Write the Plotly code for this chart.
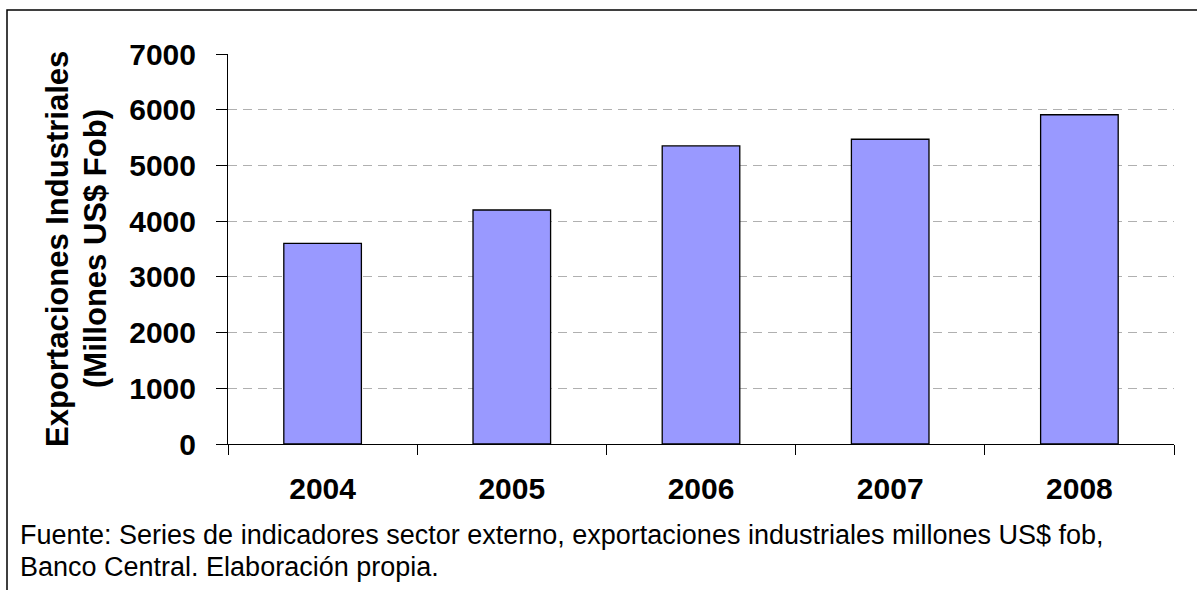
import plotly.graph_objects as go

years = ["2004", "2005", "2006", "2007", "2008"]
exports = [3600, 4200, 5350, 5470, 5910]
y_ticks = [0, 1000, 2000, 3000, 4000, 5000, 6000, 7000]
y_title_1 = "Exportaciones Industriales"
y_title_2 = "(Millones US$ Fob)"
note_1 = "Fuente: Series de indicadores sector externo, exportaciones industriales millones US$ fob,"
note_2 = "Banco Central. Elaboración propia."

W, H = 1197, 590
OFF = 0  # body margin removed via post_script
L, R, T, B = 228 - OFF, 1197 - (1174 - OFF), 54 - OFF, 590 - (444 - OFF)
pw = W - L - R
ph = H - T - B

def px_x(p):
    return (p - OFF - L) / pw

def px_y(p):
    return (H - B - (p - OFF)) / ph

FONT = "Arial, Liberation Sans, sans-serif"

fig = go.Figure(go.Bar(
    x=years, y=exports, width=0.41,
    marker=dict(color="#9999FF", line=dict(color="#000000", width=1.3)),
))

fig.update_layout(
    width=W, height=H,
    margin=dict(l=L, r=R, t=T, b=B, autoexpand=False),
    paper_bgcolor="white", plot_bgcolor="white",
    showlegend=False,
    font=dict(family=FONT, color="black"),
)
fig.update_xaxes(
    type="category", showline=True, linecolor="black", linewidth=1,
    ticks="outside", tickson="boundaries", ticklen=10, tickcolor="black", tickwidth=1,
    tickfont=dict(size=30, family=FONT, color="black", weight="bold"),
    ticklabelstandoff=18,
    showgrid=False,
)
fig.update_yaxes(
    range=[0, 7000], tickvals=y_ticks,
    showline=True, linecolor="black", linewidth=1,
    ticks="outside", ticklen=11, tickcolor="black", tickwidth=1,
    tickfont=dict(size=30, family=FONT, color="black", weight="bold"),
    ticklabelstandoff=14,
    showgrid=True, gridcolor="#b0b0b0", gridwidth=1, griddash="9px,6px",
    zeroline=False,
)

ann_font_b = dict(size=31, family=FONT, color="black", weight="bold")
ann_font = dict(size=27, family=FONT, color="black")
fig.add_annotation(x=px_x(57), y=px_y(249), xref="paper", yref="paper", text="<b>" + y_title_1 + "</b>",
                   textangle=-90, showarrow=False, font=ann_font_b, xanchor="center", yanchor="middle")
fig.add_annotation(x=px_x(95), y=px_y(249), xref="paper", yref="paper", text="<b>" + y_title_2 + "</b>",
                   textangle=-90, showarrow=False, font=ann_font_b, xanchor="center", yanchor="middle")
fig.add_annotation(x=px_x(18), y=px_y(535), xref="paper", yref="paper", text=note_1,
                   showarrow=False, font=ann_font, xanchor="left", yanchor="middle")
fig.add_annotation(x=px_x(18), y=px_y(567), xref="paper", yref="paper", text=note_2,
                   showarrow=False, font=ann_font, xanchor="left", yanchor="middle")

fig.add_shape(type="rect", xref="paper", yref="paper",
              x0=px_x(7), x1=px_x(1260), y0=px_y(700), y1=px_y(10),
              line=dict(color="black", width=1.5), fillcolor="rgba(0,0,0,0)", layer="below")

fig.write_html("out.html",
               config={"displayModeBar": False},
               post_script="document.body.style.margin='0';document.body.style.padding='0';document.body.style.overflow='hidden';")
